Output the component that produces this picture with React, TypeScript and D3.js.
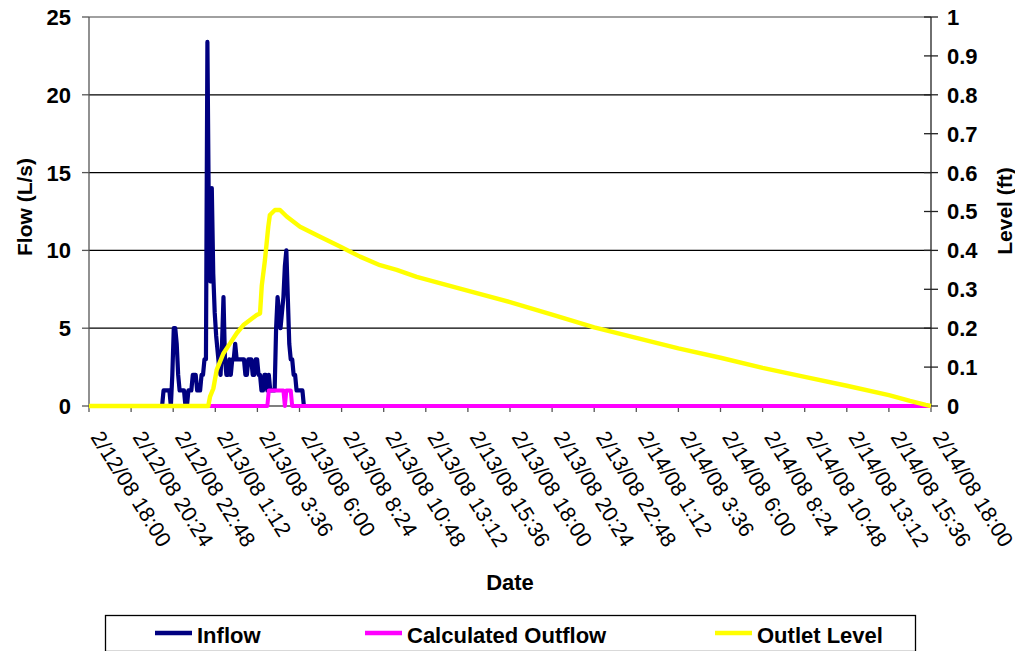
import React from "react";
import * as d3 from "d3";

// Time window of the record
const startLabel = "2/12/08 18:00";
const endLabel = "2/14/08 18:00";

// Category-style tick labels every 2:24
const xTickLabels = [
  "2/12/08 18:00", "2/12/08 20:24", "2/12/08 22:48", "2/13/08 1:12", "2/13/08 3:36",
  "2/13/08 6:00", "2/13/08 8:24", "2/13/08 10:48", "2/13/08 13:12", "2/13/08 15:36",
  "2/13/08 18:00", "2/13/08 20:24", "2/13/08 22:48", "2/14/08 1:12", "2/14/08 3:36",
  "2/14/08 6:00", "2/14/08 8:24", "2/14/08 10:48", "2/14/08 13:12", "2/14/08 15:36",
  "2/14/08 18:00",
];
const flowTicks = [0, 5, 10, 15, 20, 25];
const levelTicks = [0, 0.1, 0.2, 0.3, 0.4, 0.5, 0.6, 0.7, 0.8, 0.9, 1];

// Storm event readings, 5-minute interval, beginning 2/12/08 22:00
const eventStart = "2/12/08 22:00";
const eventStepMinutes = 5;
const inflow = [
  0, 0, 0, 1, 1, 1, 1, 1, 0, 2,
  5, 5, 4, 2, 1, 1, 1, 1, 0, 0,
  1, 1, 1, 2, 2, 2, 1, 1, 1, 2,
  2, 3, 3, 23.4, 12, 8, 14, 8.5, 6, 4.5,
  3.5, 2.5, 2, 4, 7, 3, 2, 2, 3, 2,
  3, 3, 4, 3, 3, 3, 3, 3, 3, 2,
  2, 3, 3, 3, 2, 2, 3, 3, 2, 2,
  1, 1, 2, 2, 1, 2, 1, 1, 1, 1,
  5, 7, 6, 5, 6, 7, 9, 10, 7, 4,
  3, 3, 2, 2, 1, 1, 1, 1, 1, 0,
];
const outflow = [
  0, 0, 0, 0, 0, 0, 0, 0, 0, 0,
  0, 0, 0, 0, 0, 0, 0, 0, 0, 0,
  0, 0, 0, 0, 0, 0, 0, 0, 0, 0,
  0, 0, 0, 0, 0, 0, 0, 0, 0, 0,
  0, 0, 0, 0, 0, 0, 0, 0, 0, 0,
  0, 0, 0, 0, 0, 0, 0, 0, 0, 0,
  0, 0, 0, 0, 0, 0, 0, 0, 0, 0,
  0, 0, 0, 0, 0, 1, 1, 1, 1, 1,
  1, 1, 1, 1, 1, 1, 0, 1, 1, 1,
  1, 0, 0, 0, 0, 0, 0, 0, 0, 0,
];

// Outlet level (ft): hours after 2/12/08 18:00, and level
const levelHours = [
  0, 6.8, 6.9, 7.09, 7.28, 7.66, 8.04, 8.42, 8.8, 9.18,
  9.56, 9.75, 9.85, 10.03, 10.22, 10.31, 10.6, 10.89, 11.27, 12.03,
  13.17, 14.31, 15.45, 16.59, 17.54, 18.68, 21.15, 24.0, 26.4, 28.8,
  31.2, 33.6, 36.0, 38.4, 40.8, 43.2, 45.6, 46.8, 47.7, 48,
];
const levelValues = [
  0, 0, 0.024, 0.045, 0.093, 0.135, 0.161, 0.187, 0.208, 0.221,
  0.234, 0.238, 0.31, 0.375, 0.461, 0.491, 0.504, 0.504, 0.487, 0.461,
  0.435, 0.41, 0.384, 0.362, 0.35, 0.332, 0.302, 0.267, 0.235, 0.202,
  0.175, 0.148, 0.124, 0.098, 0.075, 0.052, 0.028, 0.013, 0.003, 0,
];

const seriesNames = ["Inflow", "Calculated Outflow", "Outlet Level"];
const seriesColors = ["#000080", "#FF00FF", "#FFFF00"];

const FONT = "'Liberation Sans', Arial, Helvetica, sans-serif";

type Pt = { t: Date; v: number };

export default function App() {
  const parse = d3.timeParse("%m/%d/%y %H:%M");
  const t0 = parse(startLabel) as Date;
  const t1 = parse(endLabel) as Date;
  const ev0 = parse(eventStart) as Date;

  const W = 1015;
  const H = 651;
  const left = 89;
  const right = 931;
  const top = 17;
  const bottom = 406;

  const x = d3.scaleTime().domain([t0, t1]).range([left, right]);
  const yFlow = d3.scaleLinear().domain([0, 25]).range([bottom, top]);
  const yLevel = d3.scaleLinear().domain([0, 1]).range([bottom, top]);

  const eventSeries = (vals: number[]): Pt[] => [
    { t: t0, v: 0 },
    ...vals.map((v, i) => ({ t: d3.timeMinute.offset(ev0, i * eventStepMinutes), v })),
    { t: t1, v: 0 },
  ];
  const inflowPts = eventSeries(inflow);
  const outflowPts = eventSeries(outflow);
  const levelPts: Pt[] = levelHours.map((h, i) => ({
    t: new Date(t0.getTime() + h * 3600 * 1000),
    v: levelValues[i],
  }));

  const flowLine = d3.line<Pt>().x((d) => x(d.t)).y((d) => yFlow(d.v));
  const levelLine = d3.line<Pt>().x((d) => x(d.t)).y((d) => yLevel(d.v));

  const xTicks = xTickLabels.map((s) => ({ s, t: parse(s) as Date }));

  const legendItems = [
    { name: seriesNames[0], color: seriesColors[0], x: 155 },
    { name: seriesNames[1], color: seriesColors[1], x: 365 },
    { name: seriesNames[2], color: seriesColors[2], x: 715 },
  ];

  return (
    <svg
      width={W}
      height={H}
      style={{ position: "absolute", left: 0, top: 0, background: "#fff" }}
      fontFamily={FONT}
    >
      <rect x={0} y={0} width={W} height={H} fill="#fff" />

      {/* gridlines */}
      {flowTicks.slice(1, -1).map((v) => (
        <line key={"g" + v} x1={left} x2={right} y1={yFlow(v)} y2={yFlow(v)} stroke="#000" strokeWidth={1.3} />
      ))}
      <line x1={left} x2={right} y1={yFlow(25)} y2={yFlow(25)} stroke="#808080" strokeWidth={1.3} />

      {/* left axis */}
      <line x1={left} x2={left} y1={top} y2={bottom} stroke="#555" strokeWidth={1.3} />
      {flowTicks.map((v) => (
        <g key={"lf" + v}>
          <line x1={left - 7} x2={left} y1={yFlow(v)} y2={yFlow(v)} stroke="#555" strokeWidth={1.3} />
          <text x={71} y={yFlow(v)} dy="0.36em" textAnchor="end" fontSize={22} fontWeight="bold">
            {v}
          </text>
        </g>
      ))}

      {/* right axis */}
      <line x1={right} x2={right} y1={top} y2={bottom} stroke="#222" strokeWidth={1.3} />
      {levelTicks.map((v) => (
        <g key={"lv" + v}>
          <line x1={right - 7} x2={right + 7} y1={yLevel(v)} y2={yLevel(v)} stroke="#222" strokeWidth={1.3} />
          <text x={947} y={yLevel(v)} dy="0.36em" textAnchor="start" fontSize={22} fontWeight="bold">
            {v}
          </text>
        </g>
      ))}

      {/* x axis */}
      <line x1={left} x2={right} y1={bottom} y2={bottom} stroke="#555" strokeWidth={1.3} />
      {xTicks.map((d) => (
        <g key={"xt" + d.s}>
          <line x1={x(d.t)} x2={x(d.t)} y1={bottom} y2={bottom + 6} stroke="#555" strokeWidth={1.3} />
          <text
            transform={`translate(${x(d.t) + 1},${bottom + 31}) rotate(58)`}
            fontSize={21.5}
            textAnchor="start"
          >
            {d.s}
          </text>
        </g>
      ))}

      {/* series */}
      <path d={flowLine(inflowPts) || ""} fill="none" stroke={seriesColors[0]} strokeWidth={4.2} strokeLinejoin="round" />
      <path d={flowLine(outflowPts) || ""} fill="none" stroke={seriesColors[1]} strokeWidth={4} strokeLinejoin="round" />
      <path d={levelLine(levelPts) || ""} fill="none" stroke={seriesColors[2]} strokeWidth={4.4} strokeLinejoin="round" />

      {/* axis titles */}
      <text transform="translate(32,207) rotate(-90)" textAnchor="middle" fontSize={21} fontWeight="bold">
        Flow (L/s)
      </text>
      <text transform="translate(1012,211) rotate(-90)" textAnchor="middle" fontSize={21} fontWeight="bold">
        Level (ft)
      </text>
      <text x={510} y={590} textAnchor="middle" fontSize={22} fontWeight="bold">
        Date
      </text>

      {/* legend */}
      <rect x={105.5} y={615.5} width={810} height={36} fill="#fff" stroke="#000" strokeWidth={1.3} />
      {legendItems.map((d) => (
        <g key={"lg" + d.name}>
          <line x1={d.x} x2={d.x + 37} y1={633} y2={633} stroke={d.color} strokeWidth={4.5} />
          <text x={d.x + 42} y={643} fontSize={22} fontWeight="bold">
            {d.name}
          </text>
        </g>
      ))}
    </svg>
  );
}
